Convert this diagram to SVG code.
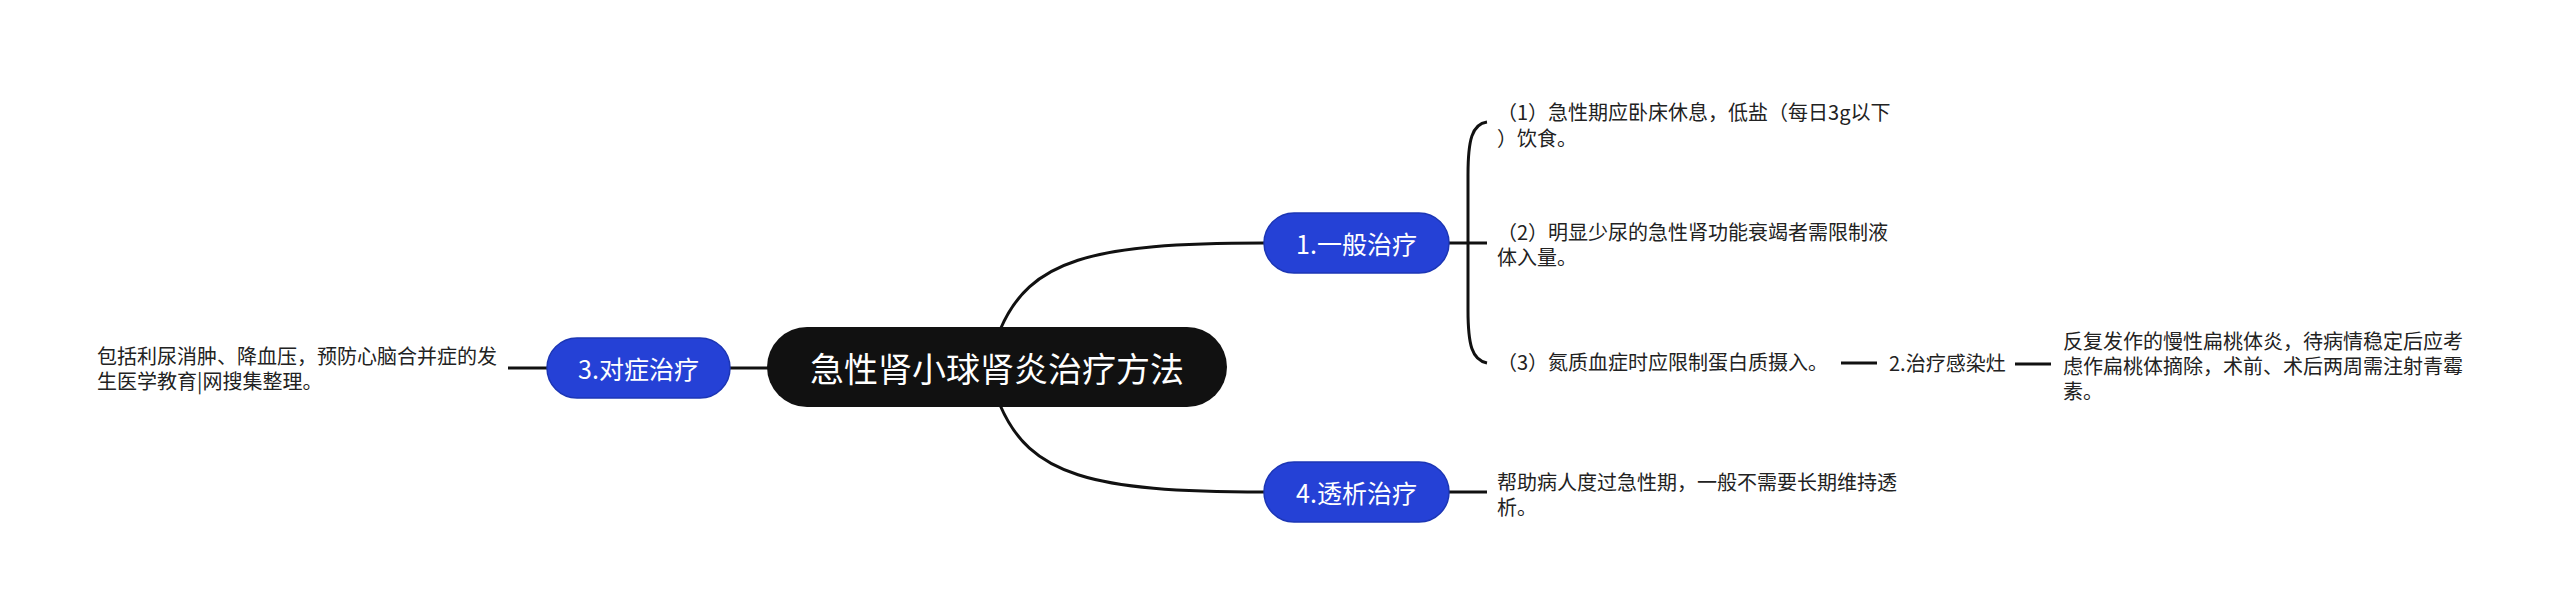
<svg xmlns="http://www.w3.org/2000/svg" width="2560" height="614" viewBox="0 0 2560 614">
<style>
.ln{fill:none;stroke:#111;stroke-width:3;stroke-linecap:butt}
.t{font-family:"Noto Sans CJK SC","Noto Sans",sans-serif;font-size:20px;fill:#222;dominant-baseline:central}
.nt{font-family:"Noto Sans CJK SC","Noto Sans",sans-serif;font-size:25px;fill:#fff;text-anchor:middle;dominant-baseline:central}
.blue{fill:#2541D6;stroke:#1c36b5;stroke-width:1.5}
</style>
<rect width="2560" height="614" fill="#fff"/>
<g id="connectors">
<path class="ln" d="M1000,330 C1030,260 1090,243 1264,243"/>
<path class="ln" d="M1000,405 C1030,475 1090,492 1264,492"/>
<path class="ln" d="M730,368 H770"/>
<path class="ln" d="M508,368 H547"/>
<path class="ln" d="M1449,243 H1487"/>
<path class="ln" d="M1487,122 C1472,124 1468,140 1468,175 L1468,310 C1468,345 1472,360 1487,363"/>
<path class="ln" d="M1841,363 H1877"/>
<path class="ln" d="M2015,364 H2051"/>
<path class="ln" d="M1449,492 H1487"/>
</g>
<g id="root">
<rect x="767" y="327" width="460" height="80" rx="40" fill="#111"/>
<text x="997" y="367" font-family="Noto Sans CJK SC, Noto Sans, sans-serif" font-size="34" fill="#fff" text-anchor="middle" dominant-baseline="central">急性肾小球肾炎治疗方法</text>
</g>
<g id="n1">
<rect class="blue" x="1264" y="213" width="185" height="60" rx="30"/>
<text class="nt" x="1356.5" y="243">1.一般治疗</text>
</g>
<g id="n3">
<rect class="blue" x="547" y="338" width="183" height="60" rx="30"/>
<text class="nt" x="638.5" y="368">3.对症治疗</text>
</g>
<g id="n4">
<rect class="blue" x="1264" y="462" width="185" height="60" rx="30"/>
<text class="nt" x="1356.5" y="492">4.透析治疗</text>
</g>
<g id="t1">
<text class="t" x="1497" y="111">（1）急性期应卧床休息，低盐（每日3g以下</text>
<text class="t" x="1497" y="137">）饮食。</text>
</g>
<g id="t2">
<text class="t" x="1497" y="231">（2）明显少尿的急性肾功能衰竭者需限制液</text>
<text class="t" x="1497" y="256">体入量。</text>
</g>
<g id="t3">
<text class="t" x="1497" y="361">（3）氮质血症时应限制蛋白质摄入。</text>
</g>
<g id="n2">
<text class="t" x="1889" y="362">2.治疗感染灶</text>
</g>
<g id="t2c">
<text class="t" x="2063" y="340">反复发作的慢性扁桃体炎，待病情稳定后应考</text>
<text class="t" x="2063" y="365">虑作扁桃体摘除，术前、术后两周需注射青霉</text>
<text class="t" x="2063" y="390">素。</text>
</g>
<g id="t4">
<text class="t" x="1497" y="481">帮助病人度过急性期，一般不需要长期维持透</text>
<text class="t" x="1497" y="506">析。</text>
</g>
<g id="t3c">
<text class="t" x="97" y="355">包括利尿消肿、降血压，预防心脑合并症的发</text>
<text class="t" x="97" y="380">生医学教育|网搜集整理。</text>
</g>
</svg>
